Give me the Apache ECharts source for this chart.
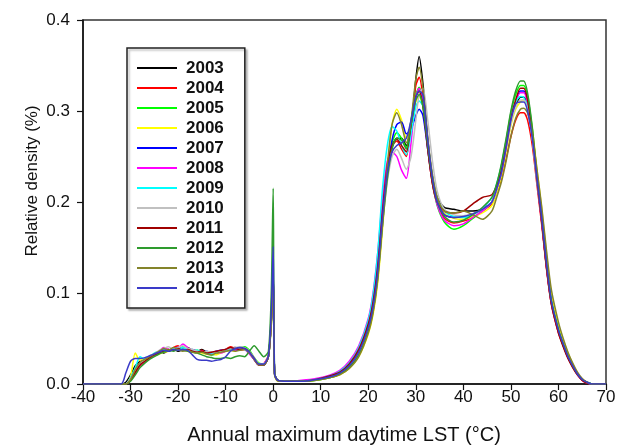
<!DOCTYPE html>
<html>
<head>
<meta charset="utf-8">
<script src="https://cdn.jsdelivr.net/npm/echarts@6/dist/echarts.min.js"></script>
<style>
  html, body { margin: 0; padding: 0; background: #fff; }
  #chart { width: 624px; height: 445px; }
</style>
</head>
<body>
<div id="chart"></div>
<script>
// x positions (°C) shared by every year
const XS = [-40, -32, -31, -30, -29, -28, -27, -26, -25, -24, -23, -22, -21, -20, -19, -18, -17, -16, -15, -14, -13, -12, -11, -10, -9, -8, -7, -6, -5, -4, -3, -2, -1,
  -0.4, 0, 0.3, 1, 3, 6, 9, 12, 14, 16, 18, 20,
  21, 22, 23, 24, 25, 26, 27, 28, 29, 30,
  30.7, 31.5, 32.5, 33.5, 34.5, 36, 38, 40, 42, 44, 46,
  47, 48, 49, 50, 51, 52, 52.7, 53.5, 54.5, 55.5, 56.5, 57.5, 58.5,
  60, 61, 62, 63, 64, 65, 66, 67, 70];

const YEARS = ['2003', '2004', '2005', '2006', '2007', '2008', '2009', '2010', '2011', '2012', '2013', '2014'];
const COLORS = ['#000000', '#ff0000', '#00ff00', '#ffff00', '#0000ff', '#ff00ff', '#00ffff', '#c0c0c0', '#a00000', '#2e9b2e', '#84842a', '#3a3ac8'];

const d2003 = [0, 0, 0.002, 0.010, 0.020, 0.025, 0.027, 0.030, 0.033, 0.036, 0.034, 0.037, 0.039, 0.036, 0.038, 0.040, 0.037, 0.036, 0.038, 0.035, 0.033, 0.035, 0.036, 0.037, 0.039, 0.040, 0.038, 0.040, 0.036, 0.028, 0.021, 0.021, 0.031,
  0.07, 0.125, 0.012, 0.004, 0.003, 0.003, 0.005, 0.008, 0.012, 0.02, 0.035, 0.062,
  0.085, 0.125, 0.18, 0.23, 0.26, 0.27, 0.27, 0.262, 0.28, 0.335,
  0.36, 0.33, 0.27, 0.228, 0.205, 0.194, 0.192, 0.19, 0.19, 0.192, 0.2,
  0.213, 0.232, 0.26, 0.288, 0.305, 0.315, 0.315, 0.305, 0.272, 0.224, 0.178, 0.128, 0.09,
  0.058, 0.043, 0.03, 0.02, 0.011, 0.005, 0.002, 0, 0];
const d2004 = [0, 0, 0, 0.004, 0.012, 0.02, 0.024, 0.028, 0.031, 0.035, 0.038, 0.036, 0.04, 0.042, 0.037, 0.039, 0.036, 0.035, 0.037, 0.034, 0.035, 0.033, 0.036, 0.038, 0.041, 0.039, 0.037, 0.038, 0.034, 0.027, 0.021, 0.022, 0.032,
  0.07, 0.12, 0.011, 0.004, 0.003, 0.003, 0.005, 0.009, 0.013, 0.022, 0.037, 0.066,
  0.09, 0.13, 0.19, 0.24, 0.262, 0.267, 0.258, 0.25, 0.285, 0.328,
  0.337, 0.315, 0.26, 0.22, 0.198, 0.182, 0.177, 0.179, 0.183, 0.19, 0.198,
  0.21, 0.225, 0.248, 0.272, 0.29, 0.298, 0.298, 0.29, 0.262, 0.218, 0.174, 0.126, 0.088,
  0.056, 0.042, 0.029, 0.019, 0.01, 0.004, 0.001, 0, 0];
const d2005 = [0, 0, 0, 0.006, 0.014, 0.022, 0.026, 0.029, 0.032, 0.034, 0.036, 0.038, 0.037, 0.039, 0.041, 0.038, 0.036, 0.037, 0.035, 0.034, 0.032, 0.033, 0.035, 0.036, 0.037, 0.038, 0.04, 0.041, 0.037, 0.029, 0.023, 0.022, 0.03,
  0.068, 0.11, 0.011, 0.004, 0.003, 0.003, 0.004, 0.007, 0.011, 0.019, 0.033, 0.06,
  0.082, 0.122, 0.182, 0.232, 0.265, 0.276, 0.27, 0.26, 0.29, 0.318,
  0.326, 0.31, 0.262, 0.222, 0.196, 0.178, 0.17, 0.174, 0.182, 0.19, 0.2,
  0.218, 0.24, 0.268, 0.298, 0.318, 0.328, 0.328, 0.316, 0.28, 0.228, 0.182, 0.133, 0.092,
  0.06, 0.045, 0.031, 0.02, 0.011, 0.005, 0.002, 0, 0];
const d2006 = [0, 0, 0, 0.008, 0.034, 0.026, 0.028, 0.03, 0.031, 0.033, 0.035, 0.036, 0.038, 0.037, 0.04, 0.036, 0.035, 0.036, 0.034, 0.033, 0.034, 0.032, 0.034, 0.036, 0.037, 0.036, 0.038, 0.039, 0.035, 0.028, 0.022, 0.021, 0.03,
  0.065, 0.11, 0.01, 0.003, 0.003, 0.003, 0.004, 0.007, 0.01, 0.017, 0.03, 0.055,
  0.076, 0.112, 0.17, 0.235, 0.285, 0.302, 0.29, 0.27, 0.285, 0.31,
  0.316, 0.305, 0.265, 0.228, 0.204, 0.188, 0.182, 0.181, 0.184, 0.188, 0.196,
  0.21, 0.228, 0.255, 0.284, 0.302, 0.31, 0.312, 0.305, 0.28, 0.235, 0.192, 0.142, 0.1,
  0.064, 0.048, 0.034, 0.022, 0.012, 0.005, 0.002, 0, 0];
const d2007 = [0, 0, 0, 0.006, 0.016, 0.023, 0.027, 0.03, 0.032, 0.035, 0.037, 0.036, 0.038, 0.04, 0.038, 0.037, 0.038, 0.036, 0.035, 0.036, 0.034, 0.036, 0.037, 0.038, 0.039, 0.037, 0.038, 0.039, 0.034, 0.027, 0.021, 0.021, 0.03,
  0.07, 0.12, 0.011, 0.004, 0.003, 0.003, 0.005, 0.008, 0.012, 0.02, 0.034, 0.06,
  0.083, 0.122, 0.18, 0.232, 0.268, 0.285, 0.288, 0.275, 0.28, 0.295,
  0.302, 0.295, 0.258, 0.222, 0.2, 0.186, 0.183, 0.184, 0.187, 0.192, 0.2,
  0.214, 0.232, 0.26, 0.29, 0.31, 0.322, 0.322, 0.31, 0.275, 0.226, 0.18, 0.13, 0.09,
  0.058, 0.043, 0.03, 0.02, 0.011, 0.005, 0.002, 0, 0];
const d2008 = [0, 0, 0, 0.005, 0.014, 0.021, 0.025, 0.029, 0.033, 0.036, 0.04, 0.038, 0.037, 0.039, 0.044, 0.04, 0.037, 0.035, 0.036, 0.034, 0.033, 0.035, 0.034, 0.036, 0.038, 0.037, 0.04, 0.038, 0.033, 0.027, 0.021, 0.022, 0.031,
  0.07, 0.118, 0.011, 0.004, 0.003, 0.004, 0.006, 0.01, 0.015, 0.025, 0.042, 0.072,
  0.1, 0.145, 0.205, 0.245, 0.255, 0.25, 0.235, 0.226, 0.265, 0.315,
  0.325, 0.31, 0.262, 0.222, 0.197, 0.18, 0.174, 0.176, 0.183, 0.19, 0.2,
  0.214, 0.232, 0.26, 0.29, 0.31, 0.32, 0.32, 0.308, 0.272, 0.222, 0.177, 0.128, 0.089,
  0.057, 0.042, 0.029, 0.019, 0.01, 0.004, 0.001, 0, 0];
const d2009 = [0, 0, 0, 0.007, 0.018, 0.03, 0.027, 0.03, 0.034, 0.036, 0.038, 0.037, 0.039, 0.038, 0.04, 0.038, 0.036, 0.037, 0.035, 0.034, 0.033, 0.034, 0.036, 0.037, 0.038, 0.039, 0.04, 0.038, 0.035, 0.028, 0.022, 0.022, 0.031,
  0.07, 0.12, 0.011, 0.004, 0.003, 0.003, 0.005, 0.009, 0.014, 0.023, 0.04, 0.07,
  0.098, 0.145, 0.215, 0.262, 0.283, 0.278, 0.262, 0.252, 0.275, 0.305,
  0.311, 0.305, 0.265, 0.228, 0.204, 0.19, 0.184, 0.183, 0.186, 0.193, 0.205,
  0.22, 0.24, 0.266, 0.294, 0.31, 0.316, 0.315, 0.304, 0.27, 0.222, 0.18, 0.132, 0.092,
  0.06, 0.044, 0.03, 0.02, 0.011, 0.005, 0.002, 0, 0];
const d2010 = [0, 0, 0, 0.006, 0.015, 0.023, 0.026, 0.031, 0.033, 0.037, 0.039, 0.041, 0.038, 0.04, 0.042, 0.039, 0.038, 0.036, 0.035, 0.036, 0.035, 0.034, 0.036, 0.038, 0.039, 0.04, 0.041, 0.04, 0.036, 0.029, 0.022, 0.022, 0.031,
  0.07, 0.12, 0.011, 0.004, 0.003, 0.003, 0.005, 0.008, 0.012, 0.02, 0.034, 0.06,
  0.08, 0.118, 0.175, 0.222, 0.25, 0.258, 0.248, 0.236, 0.25, 0.29,
  0.318, 0.325, 0.29, 0.245, 0.212, 0.192, 0.186, 0.185, 0.187, 0.192, 0.2,
  0.213, 0.232, 0.258, 0.286, 0.304, 0.312, 0.312, 0.302, 0.27, 0.224, 0.18, 0.13, 0.09,
  0.058, 0.043, 0.03, 0.02, 0.011, 0.005, 0.002, 0, 0];
const d2011 = [0, 0, 0, 0.004, 0.013, 0.021, 0.025, 0.029, 0.032, 0.034, 0.036, 0.038, 0.037, 0.039, 0.037, 0.038, 0.036, 0.035, 0.036, 0.034, 0.035, 0.036, 0.037, 0.038, 0.04, 0.039, 0.038, 0.039, 0.035, 0.028, 0.021, 0.021, 0.03,
  0.07, 0.12, 0.011, 0.004, 0.003, 0.003, 0.005, 0.009, 0.013, 0.022, 0.038, 0.066,
  0.09, 0.13, 0.19, 0.24, 0.262, 0.269, 0.262, 0.255, 0.285, 0.315,
  0.322, 0.305, 0.258, 0.22, 0.2, 0.19, 0.188, 0.19, 0.198, 0.205, 0.208,
  0.218, 0.235, 0.262, 0.292, 0.312, 0.325, 0.325, 0.312, 0.275, 0.224, 0.177, 0.127, 0.088,
  0.056, 0.041, 0.028, 0.018, 0.01, 0.004, 0.001, 0, 0];
const d2012 = [0, 0, 0, 0.003, 0.01, 0.018, 0.023, 0.027, 0.03, 0.033, 0.035, 0.037, 0.036, 0.038, 0.037, 0.036, 0.035, 0.034, 0.032, 0.03, 0.029, 0.028, 0.028, 0.029, 0.028, 0.03, 0.031, 0.03, 0.036, 0.042, 0.036, 0.03, 0.036,
  0.1, 0.215, 0.012, 0.004, 0.003, 0.003, 0.004, 0.007, 0.011, 0.018, 0.032, 0.058,
  0.08, 0.118, 0.175, 0.225, 0.258, 0.27, 0.268, 0.258, 0.285, 0.312,
  0.318, 0.305, 0.262, 0.224, 0.2, 0.184, 0.178, 0.18, 0.186, 0.194, 0.205,
  0.22, 0.242, 0.27, 0.3, 0.322, 0.333, 0.333, 0.32, 0.282, 0.23, 0.183, 0.133, 0.092,
  0.06, 0.044, 0.031, 0.02, 0.011, 0.005, 0.002, 0, 0];
const d2013 = [0, 0, 0, 0.005, 0.016, 0.024, 0.027, 0.03, 0.033, 0.036, 0.039, 0.037, 0.04, 0.038, 0.036, 0.037, 0.035, 0.034, 0.035, 0.033, 0.032, 0.034, 0.035, 0.036, 0.037, 0.036, 0.037, 0.038, 0.034, 0.027, 0.021, 0.021, 0.03,
  0.065, 0.11, 0.01, 0.003, 0.003, 0.003, 0.004, 0.007, 0.01, 0.017, 0.03, 0.056,
  0.078, 0.115, 0.175, 0.24, 0.285, 0.298, 0.285, 0.265, 0.29, 0.335,
  0.348, 0.325, 0.27, 0.23, 0.205, 0.19, 0.188, 0.19, 0.186, 0.181, 0.19,
  0.205, 0.222, 0.245, 0.272, 0.292, 0.302, 0.303, 0.298, 0.275, 0.235, 0.194, 0.146, 0.104,
  0.068, 0.05, 0.035, 0.023, 0.013, 0.006, 0.002, 0, 0];
const d2014 = [0, 0, 0.012, 0.025, 0.028, 0.028, 0.029, 0.031, 0.033, 0.035, 0.037, 0.036, 0.038, 0.037, 0.038, 0.037, 0.032, 0.027, 0.026, 0.026, 0.025, 0.026, 0.027, 0.03, 0.036, 0.039, 0.04, 0.039, 0.035, 0.028, 0.022, 0.022, 0.031,
  0.08, 0.151, 0.011, 0.004, 0.003, 0.003, 0.005, 0.008, 0.012, 0.02, 0.035, 0.062,
  0.085, 0.125, 0.185, 0.232, 0.255, 0.262, 0.265, 0.27, 0.29, 0.315,
  0.322, 0.318, 0.268, 0.226, 0.2, 0.186, 0.183, 0.184, 0.187, 0.192, 0.2,
  0.214, 0.232, 0.26, 0.29, 0.308, 0.31, 0.31, 0.3, 0.27, 0.226, 0.182, 0.132, 0.092,
  0.059, 0.044, 0.03, 0.02, 0.011, 0.005, 0.002, 0, 0];

const VALUES = [d2003, d2004, d2005, d2006, d2007, d2008, d2009, d2010, d2011, d2012, d2013, d2014];

const X_TICKS = { min: -40, max: 70, step: 10 };
const Y_TICKS = { min: 0, max: 0.4, step: 0.1 };

const FONT = 'Arial, "Liberation Sans", Helvetica, sans-serif';

const chart = echarts.init(document.getElementById('chart'));

const series = YEARS.map(function (year, i) {
  return {
    name: year,
    type: 'line',
    showSymbol: false,
    smooth: 0.25,
    color: COLORS[i],
    lineStyle: { width: 1.5, color: COLORS[i] },
    data: XS.map(function (x, j) { return [x, VALUES[i][j]]; })
  };
});

chart.setOption({
  animation: false,
  backgroundColor: '#fff',
  grid: {
    left: 83,
    right: 18,
    top: 20,
    bottom: 61,
    show: true,
    borderColor: '#333',
    borderWidth: 1.5,
    backgroundColor: 'transparent'
  },
  legend: {
    data: YEARS,
    orient: 'vertical',
    left: 127,
    top: 48,
    padding: [10, 21, 10, 10],
    itemGap: 0,
    itemWidth: 40,
    itemHeight: 2,
    icon: 'rect',
    backgroundColor: '#fff',
    borderColor: '#222',
    borderWidth: 1.5,
    shadowColor: 'rgba(0,0,0,0.25)',
    shadowBlur: 2,
    shadowOffsetX: 2,
    shadowOffsetY: 2,
    textStyle: {
      fontFamily: FONT,
      fontSize: 17,
      fontWeight: 'bold',
      color: '#111',
      lineHeight: 20,
      padding: [0, 0, 0, 4]
    }
  },
  xAxis: {
    type: 'value',
    min: X_TICKS.min,
    max: X_TICKS.max,
    interval: X_TICKS.step,
    axisLine: { onZero: false, lineStyle: { color: '#111', width: 1.5 } },
    axisTick: { show: true, inside: false, length: 6, lineStyle: { color: '#111', width: 1.2 } },
    axisLabel: { fontFamily: FONT, fontSize: 17, color: '#111', margin: 5 },
    splitLine: { show: false }
  },
  yAxis: {
    type: 'value',
    min: Y_TICKS.min,
    max: Y_TICKS.max,
    interval: Y_TICKS.step,
    axisLine: { show: true, onZero: false, lineStyle: { color: '#111', width: 1.5 } },
    axisTick: { show: true, inside: false, length: 6, lineStyle: { color: '#111', width: 1.2 } },
    axisLabel: {
      fontFamily: FONT, fontSize: 17, color: '#111', margin: 13,
      formatter: function (v) { return v.toFixed(1); }
    },
    splitLine: { show: false }
  },
  graphic: [
    {
      type: 'text',
      x: 344,
      y: 435,
      style: {
        text: 'Annual maximum daytime LST (°C)',
        fontFamily: FONT, fontSize: 20, fill: '#111',
        align: 'center', verticalAlign: 'middle'
      }
    },
    {
      type: 'text',
      x: 32,
      y: 181,
      rotation: Math.PI / 2,
      style: {
        text: 'Relative density (%)',
        fontFamily: FONT, fontSize: 17, fill: '#111',
        align: 'center', verticalAlign: 'middle'
      }
    }
  ],
  series: series
});
</script>
</body>
</html>
